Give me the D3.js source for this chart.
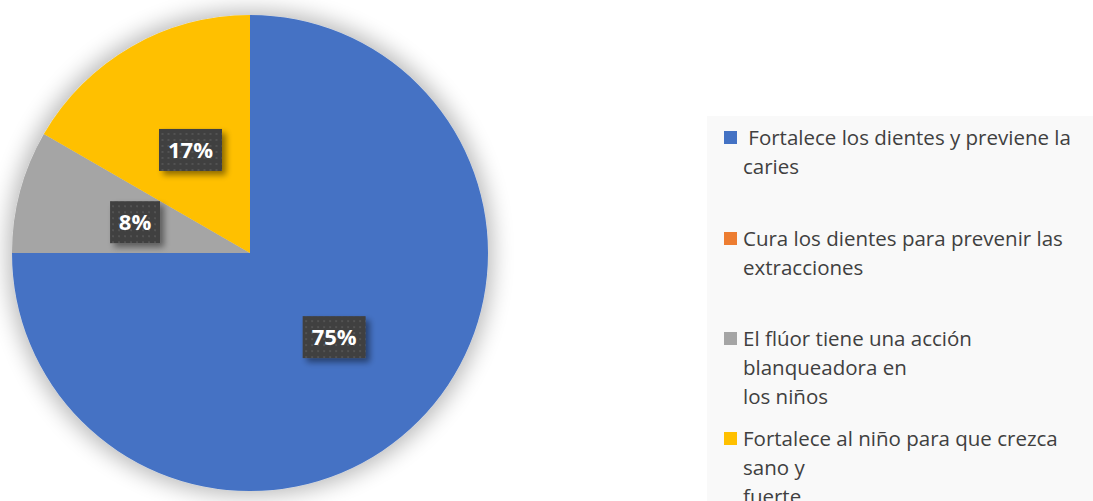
<!DOCTYPE html>
<html>
<head>
<meta charset="utf-8">
<script src="https://cdn.jsdelivr.net/npm/d3@7"></script>
<style>
  body { margin: 0; background: #fff; }
  svg { display: block; }
</style>
</head>
<body>
<div id="chart"></div>
<script>
// Chart data
const categories = [
    " Fortalece los dientes y previene la caries",
    "Cura los dientes para prevenir las extracciones",
    "El flúor tiene una acción blanqueadora en los niños",
    "Fortalece al niño para que crezca sano y fuerte"
];
const counts = [9, 0, 1, 2];
const pctLabels = ["75%", "0%", "8%", "17%"];
const colors = ["#4472C4", "#ED7D31", "#A5A5A5", "#FFC000"];
// legend lines as wrapped in the original
const legendLines = [
    [" Fortalece los dientes y previene la", "caries"],
    ["Cura los dientes para prevenir las", "extracciones"],
    ["El flúor tiene una acción", "blanqueadora en", "los niños"],
    ["Fortalece al niño para que crezca", "sano y", "fuerte"]
];

const width = 1093, height = 501;
const cx = 250, cy = 253, radius = 238;

const svg = d3.select("#chart")
    .append("svg")
    .attr("width", width)
    .attr("height", height);

const defs = svg.append("defs");

// soft glow around the pie
const glow = defs.append("filter").attr("id", "glow")
    .attr("x", "-20%").attr("y", "-20%").attr("width", "140%").attr("height", "140%");
glow.append("feMorphology").attr("in", "SourceAlpha").attr("operator", "dilate").attr("radius", 4).attr("result", "d");
glow.append("feGaussianBlur").attr("in", "d").attr("stdDeviation", 11).attr("result", "b");
glow.append("feComponentTransfer").attr("in", "b").attr("result", "s")
    .append("feFuncA").attr("type", "linear").attr("slope", 0.28);
const gm = glow.append("feMerge");
gm.append("feMergeNode").attr("in", "s");
gm.append("feMergeNode").attr("in", "SourceGraphic");

// label box shadow
const sh = defs.append("filter").attr("id", "boxShadow")
    .attr("x", "-30%").attr("y", "-30%").attr("width", "170%").attr("height", "170%");
sh.append("feGaussianBlur").attr("in", "SourceAlpha").attr("stdDeviation", 3).attr("result", "b");
sh.append("feOffset").attr("in", "b").attr("dx", 4).attr("dy", 4).attr("result", "o");
sh.append("feComponentTransfer").attr("in", "o").attr("result", "s")
    .append("feFuncA").attr("type", "linear").attr("slope", 0.45);
const sm = sh.append("feMerge");
sm.append("feMergeNode").attr("in", "s");
sm.append("feMergeNode").attr("in", "SourceGraphic");

// dotted texture for label boxes
const pat = defs.append("pattern").attr("id", "dots")
    .attr("width", 6).attr("height", 6).attr("patternUnits", "userSpaceOnUse");
pat.append("rect").attr("width", 6).attr("height", 6).attr("fill", "#404040");
pat.append("rect").attr("x", 1).attr("y", 1).attr("width", 2).attr("height", 2).attr("fill", "#525252");

// legend background
svg.append("rect")
    .attr("x", 707).attr("y", 116)
    .attr("width", width - 707).attr("height", height - 116)
    .attr("fill", "#f9f9f9");

const pie = d3.pie().sort(null).value(d => d);
const arcs = pie(counts);
const arc = d3.arc().innerRadius(0).outerRadius(radius);

const g = svg.append("g").attr("transform", `translate(${cx},${cy})`);

g.append("g").attr("filter", "url(#glow)")
    .selectAll("path")
    .data(arcs.filter(d => d.value > 0))
    .enter().append("path")
    .attr("d", arc)
    .attr("fill", (d) => colors[d.index]);

// percentage labels
const labels = g.selectAll(".lbl")
    .data(arcs.filter(d => d.value > 0))
    .enter().append("g")
    .attr("class", "lbl")
    .attr("transform", d => `translate(${arc.centroid(d)})`);

labels.each(function(d) {
    const sel = d3.select(this);
    const txt = pctLabels[d.index];
    const w = txt.length === 2 ? 50 : 63;
    sel.append("rect")
        .attr("x", -w / 2).attr("y", -21)
        .attr("width", w).attr("height", 42)
        .attr("fill", "url(#dots)")
        .attr("filter", "url(#boxShadow)");
    sel.append("text")
        .attr("text-anchor", "middle")
        .attr("dy", "0.36em")
        .attr("fill", "#fff")
        .style("font-family", "'Open Sans', sans-serif")
        .style("font-weight", "bold")
        .style("font-size", "22px")
        .text(txt);
});

// legend
const itemY = [138, 239, 339, 439];
const lineH = 29;
const legend = svg.append("g")
    .style("font-family", "'Open Sans', sans-serif")
    .style("font-size", "20.5px")
    .attr("fill", "#404040");

categories.forEach((c, i) => {
    const item = legend.append("g").attr("transform", `translate(0,${itemY[i]})`);
    item.append("rect")
        .attr("x", 724).attr("y", -7)
        .attr("width", 13).attr("height", 13)
        .attr("fill", colors[i]);
    const t = item.append("text").attr("x", 743);
    legendLines[i].forEach((ln, j) => {
        t.append("tspan")
            .attr("x", 743)
            .attr("y", j * lineH)
            .attr("dy", "0.36em")
            .style("white-space", "pre")
            .text(ln);
    });
});
</script>
</body>
</html>
